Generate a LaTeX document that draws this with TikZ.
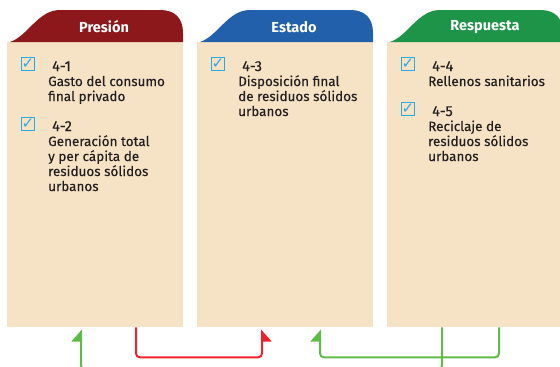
\documentclass[tikz,border=0pt]{standalone}
\usepackage{fontspec}
\setmainfont{Fira Sans}
\newfontfamily\checkfont{DejaVu Sans}
\newfontfamily\itemfont{Fira Sans}[FakeBold=0.3]
\usetikzlibrary{arrows.meta,positioning}
\definecolor{panelbg}{RGB}{246,227,197}
\definecolor{presred}{RGB}{140,24,27}
\definecolor{estblue}{RGB}{35,96,172}
\definecolor{respgreen}{RGB}{30,148,72}
\definecolor{boxcyan}{RGB}{41,170,226}
\definecolor{arrred}{RGB}{236,35,42}
\definecolor{arrgreen}{RGB}{95,186,72}
\definecolor{textgray}{RGB}{35,31,32}
\newcommand\itemno[1]{\hspace{4pt}{\fontsize{14.5}{15}\selectfont#1}}
\tikzset{
  panel/.style = {fill=panelbg, draw=none, anchor=north west, inner sep=0pt,
    minimum width=176pt, minimum height=285pt},
  headtext/.style = {white, font=\bfseries\fontsize{14.5}{16}\selectfont},
  itemtext/.style = {anchor=north west, align=left, inner sep=0pt,
    text=textgray, font=\itemfont\fontsize{13.5}{15}\selectfont},
  checkbox/.style = {draw=boxcyan, line width=1pt, minimum size=13pt,
    inner sep=0pt, text=boxcyan, font=\checkfont\fontsize{15}{15}\selectfont},
  redlink/.style = {arrred, line width=2pt, rounded corners=4pt,
    -{Triangle[harpoon,swap,length=11pt,width=19pt]}},
  greenlink/.style = {arrgreen, line width=2pt, rounded corners=4pt,
    -{Triangle[harpoon,length=11pt,width=19pt]}},
}
% header tab over a panel whose left edge is at #1
\newcommand\headtab[2]{%
  \fill[#2] (#1+3,42) .. controls (#1+21,36) and (#1+31,10) .. (#1+53,10)
    -- (#1+153,10) .. controls (#1+168,10) and (#1+176,18) .. (#1+176,33)
    -- (#1+176,42) -- cycle;}

\begin{document}
\begin{tikzpicture}[x=1pt,y=-1pt]
  \useasboundingbox (0,0) rectangle (560,367);
  \clip (0,0) rectangle (560,367);

  % panels
  \node[panel] (pres) at (7,42) {};
  \node[panel] (est) at (197,42) {};
  \node[panel] (resp) at (387,42) {};
  \headtab{7}{presred}
  \headtab{197}{estblue}
  \headtab{387}{respgreen}
  \node[headtext] (presh) at (104,27) {Presión};
  \node[headtext] (esth) at (294,27) {Estado};
  \node[headtext] (resph) at (485,27) {Respuesta};

  % indicators
  \node[itemtext] (i41) at (48,61) {\itemno{4-1}\\Gasto del consumo\\final privado};
  \node[itemtext] (i42) at (48,121) {\itemno{4-2}\\Generación total\\y per cápita de\\residuos sólidos\\urbanos};
  \node[itemtext] (i43) at (238,61) {\itemno{4-3}\\Disposición final\\de residuos sólidos\\urbanos};
  \node[itemtext] (i44) at (428,61) {\itemno{4-4}\\Rellenos sanitarios};
  \node[itemtext] (i45) at (428,106) {\itemno{4-5}\\Reciclaje de\\residuos sólidos\\urbanos};
  \foreach \i in {41,42,43,44,45}
    \node[checkbox, left=13pt of i\i.north west, anchor=north east, yshift=4pt] (c\i) {✓};

  % links
  \draw[redlink] ([xshift=129pt]pres.south west) -- ++(0,30)
    -| ([xshift=65pt,yshift=-2pt]est.south west);
  \draw[greenlink] ([xshift=112pt]resp.south west) -- ++(0,30)
    -| ([xshift=123pt,yshift=-2pt]est.south west);
  \draw[greenlink] ([xshift=55pt]resp.south west) -- ++(0,42)
    -| ([xshift=74pt,yshift=-2pt]pres.south west);
\end{tikzpicture}
\end{document}
